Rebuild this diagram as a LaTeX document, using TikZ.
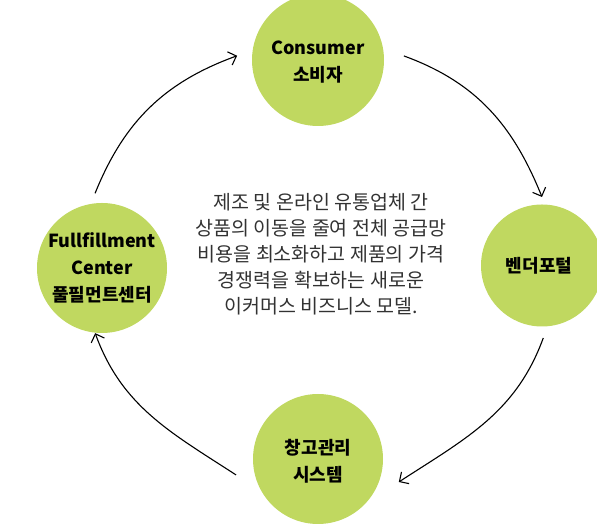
\documentclass[tikz,border=0pt]{standalone}
\usepackage{fontspec}
\setmainfont{Noto Sans CJK KR}
\usetikzlibrary{arrows.meta,calc}
\definecolor{leaf}{RGB}{192,216,96}
\definecolor{bodytext}{RGB}{50,50,50}
\begin{document}
\begin{tikzpicture}[x=1pt,y=1pt,
  hub/.style={circle,fill=leaf,inner sep=0pt,minimum size=#1},
  hub/.default=132pt,
  lbl/.style={align=center,font=\fontsize{18}{27}\selectfont\bfseries,text=black},
  flow/.style={line width=1.1pt,-{Straight Barb[length=7pt,width=14pt]}}]
\useasboundingbox (0,0) rectangle (597,529);
% circles (y = 529 - image y)
\node[hub] (con) at (318,469) {};
\node[hub=130pt] (ful) at (102,261) {};
\node[hub=122pt] (ven) at (542,263.5) {};
\node[hub=130pt] (war) at (318,70) {};
% labels
\node[lbl] (conT) at (318,466.5) {Consumer\\소비자};
\node[lbl] (fulT) at (102,261) {Fullfillment\\Center\\풀필먼트센터};
\node[lbl] (venT) at (539,263) {벤더포털};
\node[lbl] (warT) at (318,68) {창고관리\\시스템};
% centre text
\node[align=center,text=bodytext,font=\fontsize{19.5}{26}\selectfont] (txt) at (321,275)
  {제조 및 온라인 유통업체 간\\상품의 이동을 줄여 전체 공급망\\비용을 최소화하고 제품의 가격\\경쟁력을 확보하는 새로운\\이커머스 비즈니스 모델.};
% connectors
\draw[flow] ($(ful)+(95.3:75)$) to[out=68,in=200] ($(con)+(177:81)$);
\draw[flow] ($(con)+(2.7:86)$) to[out=-20,in=112] ($(ven)+(90:68.5)$);
\draw[flow] ($(ven)+(-89:72.5)$) to[out=-110,in=33] ($(war)+(-15.9:84)$);
\draw[flow] ($(war)+(191:83.5)$) to[out=147,in=-70] ($(ful)+(-96:65.5)$);
\end{tikzpicture}
\end{document}
